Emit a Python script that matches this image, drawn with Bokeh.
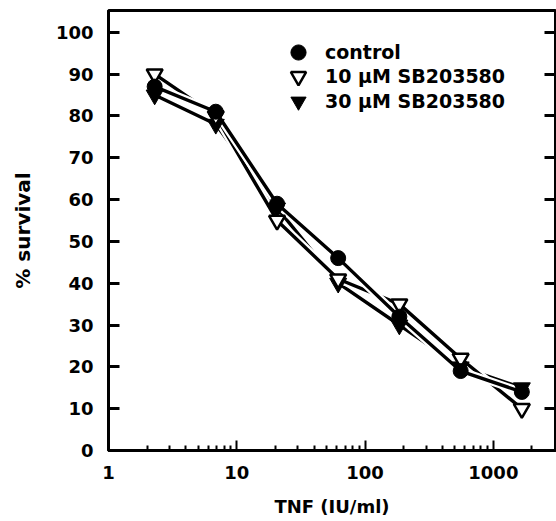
from bokeh.plotting import figure
from bokeh.models import (Range1d, FixedTicker, PrintfTickFormatter, LinearAxis,
                          Legend, LegendItem)
from bokeh.embed import file_html
from bokeh.resources import INLINE

# TNF doses (IU/ml), 3-fold dilutions
tnf = [2.29, 6.86, 20.6, 61.7, 185, 556, 1667]
control = [87, 81, 59, 46, 32, 19, 14]
sb10 = [90, 80, 55, 41, 35, 22, 10]
sb30 = [85, 78, 58, 40, 30, 20, 15]

labels = ["control", "10 μM SB203580", "30 μM SB203580"]
x_ticks = [1, 10, 100, 1000]
x_minor = [2, 3, 4, 5, 6, 7, 8, 9, 20, 30, 40, 50, 60, 70, 80, 90,
           200, 300, 400, 500, 600, 700, 800, 900, 2000]
y_ticks = [0, 10, 20, 30, 40, 50, 60, 70, 80, 90, 100]

FONT = "DejaVu Sans"

p = figure(width=556, height=521, x_axis_type="log",
           x_range=Range1d(1, 3050), y_range=Range1d(0, 105.2),
           output_backend="svg", toolbar_location=None,
           min_border_left=108, min_border_right=1, min_border_top=10,
           min_border_bottom=71)
p.xgrid.visible = False
p.ygrid.visible = False
p.outline_line_color = "black"
p.outline_line_width = 3
p.outline_line_alpha = 1.0
p.background_fill_color = "white"
p.border_fill_color = "white"

# x axis
xa = p.xaxis[0]
xa.ticker = FixedTicker(ticks=x_ticks, minor_ticks=x_minor)
xa.formatter = PrintfTickFormatter(format="%d")
xa.axis_line_width = 3
xa.major_tick_in = 10
xa.major_tick_out = 0
xa.major_tick_line_width = 2
xa.minor_tick_in = 5
xa.minor_tick_out = 0
xa.minor_tick_line_width = 2
xa.major_label_text_font = FONT
xa.major_label_text_font_style = "bold"
xa.major_label_text_font_size = "18px"
xa.major_label_text_color = "black"
xa.major_label_standoff = 15
xa.axis_label = "TNF (IU/ml)"
xa.axis_label_text_font = FONT
xa.axis_label_text_font_style = "bold"
xa.axis_label_text_font_size = "18px"
xa.axis_label_text_color = "black"
xa.axis_label_standoff = 14

# y axis
ya = p.yaxis[0]
ya.ticker = FixedTicker(ticks=y_ticks)
ya.axis_line_width = 3
ya.major_tick_in = 11
ya.major_tick_out = 0
ya.major_tick_line_width = 3
ya.minor_tick_line_color = None
ya.major_label_text_font = FONT
ya.major_label_text_font_style = "bold"
ya.major_label_text_font_size = "18px"
ya.major_label_text_color = "black"
ya.major_label_standoff = 15
ya.axis_label = "% survival"
ya.axis_label_text_font = FONT
ya.axis_label_text_font_style = "bold"
ya.axis_label_text_font_size = "20px"
ya.axis_label_text_color = "black"
ya.axis_label_standoff = 18

# right axis (ticks only)
ra = LinearAxis(ticker=FixedTicker(ticks=y_ticks), axis_line_color=None,
                major_tick_in=11, major_tick_out=0, major_tick_line_width=3,
                minor_tick_line_color=None, major_label_text_font_size="0px",
                major_label_standoff=0)
ra.major_label_overrides = {t: "" for t in y_ticks}
p.add_layout(ra, "right")

for ys in (sb30, sb10, control):
    p.line(tnf, ys, line_color="white", line_width=8)
    p.line(tnf, ys, line_color="black", line_width=3.4)

r30 = p.scatter(tnf, sb30, marker="inverted_triangle", size=17,
                fill_color="black", line_color="black", line_width=1)
r10 = p.scatter(tnf, sb10, marker="inverted_triangle", size=16,
                fill_color="white", line_color="black", line_width=2.5)
rc = p.scatter(tnf, control, marker="circle", size=15,
               fill_color="black", line_color="black", line_width=1)

# one legend per row so the rows can sit closer than the glyph box height
legend_rows = [(labels[0], rc, 379), (labels[1], r10, 355), (labels[2], r30, 330)]
for lab, rend, ypos in legend_rows:
    lg = Legend(items=[LegendItem(label=lab, renderers=[rend])],
                location=(171, ypos), padding=0, margin=0,
                glyph_width=38, glyph_height=38, spacing=0,
                label_standoff=8, label_text_font=FONT,
                label_text_font_style="bold", label_text_font_size="19px",
                label_text_color="black",
                border_line_color=None, background_fill_alpha=0)
    p.add_layout(lg, "center")

open("out.html", "w").write(file_html(p, INLINE))
